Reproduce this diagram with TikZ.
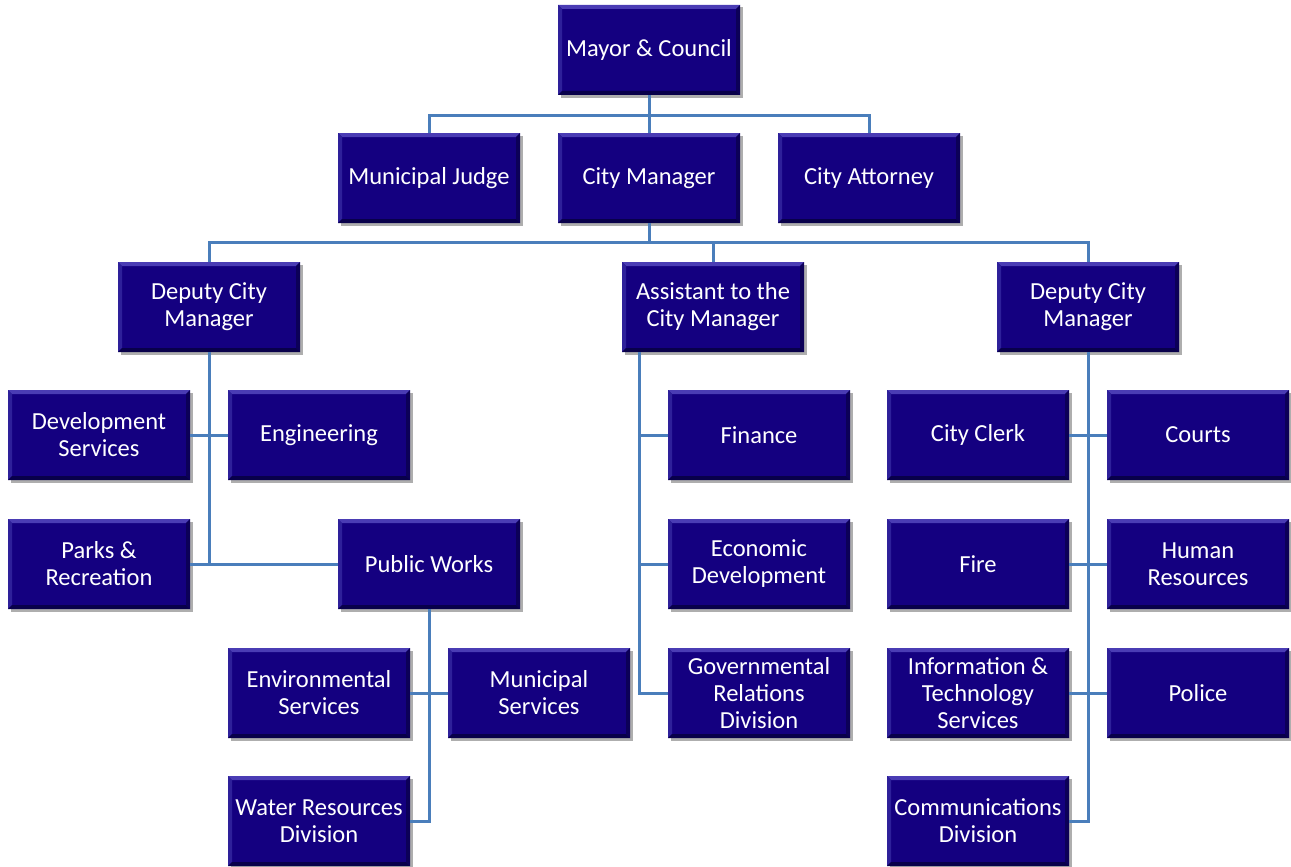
\documentclass[tikz,border=0pt]{standalone}
\usepackage{fontspec}
\setmainfont{Carlito}
\usetikzlibrary{shadows,calc}
\definecolor{boxfill}{HTML}{140080}
\definecolor{bevtop}{HTML}{4A3CB4}
\definecolor{bevleft}{HTML}{2E209A}
\definecolor{bevright}{HTML}{0C0058}
\definecolor{bevbot}{HTML}{08004A}
\definecolor{linkblue}{HTML}{4A7EBB}
\tikzset{
  orgbox/.style={
    rectangle, fill=boxfill, text=white, minimum width=182pt, minimum height=90pt,
    inner sep=2pt, align=center, font=\fontsize{24.5}{27}\selectfont,
    drop shadow={shadow xshift=2.5pt, shadow yshift=-2.5pt, opacity=0.45, fill=black!70},
    path picture={
      \coordinate (nw) at (path picture bounding box.north west);
      \coordinate (ne) at (path picture bounding box.north east);
      \coordinate (sw) at (path picture bounding box.south west);
      \coordinate (se) at (path picture bounding box.south east);
      \fill[bevtop] (nw) -- (ne) -- ([shift={(-4pt,-4pt)}]ne) -- ([shift={(4pt,-4pt)}]nw) -- cycle;
      \fill[bevleft] (nw) -- (sw) -- ([shift={(4pt,4pt)}]sw) -- ([shift={(4pt,-4pt)}]nw) -- cycle;
      \fill[bevright] (ne) -- (se) -- ([shift={(-4pt,4pt)}]se) -- ([shift={(-4pt,-4pt)}]ne) -- cycle;
      \fill[bevbot] (sw) -- (se) -- ([shift={(-4pt,4pt)}]se) -- ([shift={(4pt,4pt)}]sw) -- cycle;
    }
  },
  link/.style={draw=linkblue, line width=3pt}
}
\begin{document}
\begin{tikzpicture}[x=1pt,y=-1pt]
\useasboundingbox (0,0) rectangle (1291,867);

% top levels
\node[orgbox] (mayor)    at (649,50)  {Mayor \& Council};
\node[orgbox] (judge)    at (429,178) {Municipal Judge};
\node[orgbox] (manager)  at (649,178) {City Manager};
\node[orgbox] (attorney) at (869,178) {City Attorney};
\node[orgbox] (dcmL)     at (209,307) {Deputy City\\Manager};
\node[orgbox] (asst)     at (713,307) {Assistant to the\\City Manager};
\node[orgbox] (dcmR)     at (1088,307) {Deputy City\\Manager};

% left branch
\node[orgbox] (dev)   at (99,435)  {Development\\Services};
\node[orgbox] (eng)   at (319,435) {Engineering};
\node[orgbox] (parks) at (99,564)  {Parks \&\\Recreation};
\node[orgbox] (pw)    at (429,564) {Public Works};
\node[orgbox] (env)   at (319,693) {Environmental\\Services};
\node[orgbox] (muni)  at (539,693) {Municipal\\Services};
\node[orgbox] (water) at (319,821) {Water Resources\\Division};

% middle branch
\node[orgbox] (fin)  at (759,435) {Finance};
\node[orgbox] (econ) at (759,564) {Economic\\Development};
\node[orgbox] (gov)  at (759,693) {Governmental\\Relations\\Division};

% right branch
\node[orgbox] (clerk)  at (978,435)  {City Clerk};
\node[orgbox] (courts) at (1198,435) {Courts};
\node[orgbox] (fire)   at (978,564)  {Fire};
\node[orgbox] (hr)     at (1198,564) {Human\\Resources};
\node[orgbox] (its)    at (978,693)  {Information \&\\Technology\\Services};
\node[orgbox] (police) at (1198,693) {Police};
\node[orgbox] (comm)   at (978,821)  {Communications\\Division};

% connectors
\coordinate (bus1) at (649,115);
\coordinate (bus2) at (649,242);
\draw[link] (mayor.south) -- (manager.north);
\draw[link] (judge.north) |- (bus1) -| (attorney.north);
\draw[link] (manager.south) -- (bus2);
\draw[link] (dcmL.north) |- (bus2) -| (dcmR.north);
\draw[link] (bus2) -| (asst.north);

\draw[link] (dcmL.south) |- (pw.west);
\draw[link] (dev.east) -- (eng.west);
\draw[link] (parks.east) -- (pw.west);
\draw[link] (pw.south) |- (water.east);
\draw[link] (env.east) -- (muni.west);

\coordinate (aline) at ([xshift=18pt]asst.south west);
\draw[link] (aline) |- (gov.west);
\draw[link] (fin.west) -- (fin.west -| aline);
\draw[link] (econ.west) -- (econ.west -| aline);

\draw[link] (dcmR.south) |- (comm.east);
\draw[link] (clerk.east) -- (courts.west);
\draw[link] (fire.east) -- (hr.west);
\draw[link] (its.east) -- (police.west);
\end{tikzpicture}
\end{document}
